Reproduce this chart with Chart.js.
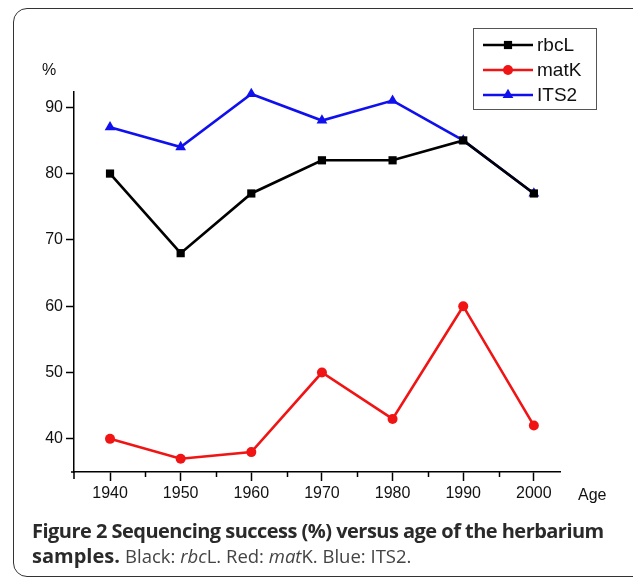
<!DOCTYPE html>
<html>
<head>
<meta charset="utf-8">
<script src="https://cdn.jsdelivr.net/npm/chart.js@4.4.1/dist/chart.umd.min.js"></script>
<style>
  html, body { margin: 0; padding: 0; background: #fff; }
  body { width: 633px; height: 579px; position: relative; overflow: hidden; }
  .frame {
    position: absolute; left: 13px; top: 8px; width: 700px; height: 569px;
    border: 1.5px solid #333; border-radius: 14px; box-sizing: border-box;
  }
  .chartBox { position: absolute; left: 0; top: 0; width: 633px; height: 579px; }
  .caption {
    position: absolute; left: 32px; top: 518px; width: 600px;
    font-family: "Open Sans", sans-serif; font-size: 20px; line-height: 25px;
    color: #444; white-space: nowrap;
  }
  .caption b { font-weight: 700; color: #2a2a2a; }
  .caption span { font-weight: 400; font-size: 18.5px; }
</style>
</head>
<body>
<div class="frame"></div>
<div class="chartBox"><canvas id="chart" width="633" height="579"></canvas></div>
<div class="caption">
  <div id="capLine1"><b>Figure 2 Sequencing success (%) versus age of the herbarium</b></div>
  <div id="capLine2"><b>samples.</b> <span id="capRest">Black: <i>rbc</i>L. Red: <i>mat</i>K. Blue: ITS2.</span></div>
</div>
<script>
// data
const years = [1940, 1950, 1960, 1970, 1980, 1990, 2000];
const rbcL = [80, 68, 77, 82, 82, 85, 77];
const matK = [40, 37, 38, 50, 43, 60, 42];
const its2 = [87, 84, 92, 88, 91, 85, 77];
const yTicks = [40, 50, 60, 70, 80, 90];
const xMinorTicks = [1945, 1955, 1965, 1975, 1985, 1995];

const FONT = "'Liberation Sans', Arial, sans-serif";

// squeeze caption line 1 so it spans the same width as the figure's caption
function fitWidth(el, target) {
  const w = el.getBoundingClientRect().width;
  const ls = (target - w) / el.textContent.length;
  el.style.letterSpacing = ls.toFixed(2) + "px";
}
fitWidth(document.querySelector("#capLine1 b"), 572);

function pts(vals) {
  return years.map((yr, i) => ({ x: yr, y: vals[i] }));
}

/* ---------- axis extras: minor ticks, axis titles ---------- */
const extrasPlugin = {
  id: "extras",
  afterDraw(chart) {
    const ctx = chart.ctx;
    const x = chart.scales.x;
    const bottom = chart.chartArea.bottom;
    const left = chart.chartArea.left;
    ctx.save();
    ctx.strokeStyle = "#000";
    ctx.lineWidth = 1.5;
    // minor ticks on x
    xMinorTicks.forEach(v => {
      const px = Math.round(x.getPixelForValue(v)) + 0.5;
      ctx.beginPath();
      ctx.moveTo(px, bottom);
      ctx.lineTo(px, bottom + 5);
      ctx.stroke();
    });
    // y axis runs a bit below the x axis, x axis a bit left of y axis
    ctx.beginPath();
    ctx.moveTo(left, bottom);
    ctx.lineTo(left, bottom + 7);
    ctx.moveTo(left - 3, bottom);
    ctx.lineTo(left, bottom);
    ctx.stroke();

    ctx.fillStyle = "#111";
    ctx.font = "16px " + FONT;
    ctx.textBaseline = "middle";
    ctx.textAlign = "left";
    ctx.fillText("%", 42, 71);
    ctx.fillText("Age", 578, 496);
    ctx.restore();
  }
};

/* ---------- boxed legend ---------- */
const boxLegendPlugin = {
  id: "boxLegend",
  afterDraw(chart) {
    const ctx = chart.ctx;
    const bx = 473, by = 28, bw = 123, bh = 81;
    ctx.save();
    ctx.fillStyle = "#fff";
    ctx.fillRect(bx, by, bw, bh);
    ctx.strokeStyle = "#555";
    ctx.lineWidth = 1;
    ctx.strokeRect(bx + 0.5, by + 0.5, bw, bh);
    chart.data.datasets.forEach((ds, i) => {
      const cy = by + 17 + i * 25;
      ctx.strokeStyle = ds.borderColor;
      ctx.lineWidth = ds.borderWidth;
      ctx.beginPath();
      ctx.moveTo(483, cy);
      ctx.lineTo(533, cy);
      ctx.stroke();
      ctx.fillStyle = ds.backgroundColor;
      Chart.helpers.drawPoint(ctx, {
        pointStyle: ds.pointStyle, radius: ds.pointRadius, borderWidth: 0, rotation: 0
      }, 508, cy);
      ctx.fillStyle = "#111";
      ctx.font = "19px " + FONT;
      ctx.textBaseline = "middle";
      ctx.textAlign = "left";
      ctx.fillText(ds.label, 537, cy + 1);
    });
    ctx.restore();
  }
};

const ds = (label, vals, color, style, r) => ({
  label: label,
  data: pts(vals),
  borderColor: color,
  backgroundColor: color,
  borderWidth: 2.6,
  pointStyle: style,
  pointRadius: r,
  pointHoverRadius: r,
  pointBorderWidth: 0,
  tension: 0,
  clip: false
});

new Chart(document.getElementById("chart"), {
  type: "line",
  data: {
    datasets: [
      ds("rbcL", rbcL, "#000000", "rect", 5.8),
      ds("matK", matK, "#f01414", "circle", 5),
      ds("ITS2", its2, "#1010ee", "triangle", 6.2)
    ]
  },
  options: {
    responsive: false,
    animation: false,
    layout: { padding: { top: 92, right: 73, bottom: 0, left: 0 } },
    plugins: { legend: { display: false }, tooltip: { enabled: false } },
    scales: {
      x: {
        type: "linear",
        min: 1934.9,
        max: 2003.7,
        afterBuildTicks: (axis) => { axis.ticks = years.map(v => ({ value: v })); },
        afterFit: (axis) => { axis.height = 107; },
        grid: { drawOnChartArea: false, drawTicks: true, tickLength: 9, tickWidth: 1.5, tickColor: "#000" },
        border: { display: true, color: "#000", width: 1.5 },
        ticks: {
          color: "#111", padding: 3, maxRotation: 0,
          font: { family: FONT, size: 16 },
          callback: (v) => String(v)
        }
      },
      y: {
        type: "linear",
        min: 35,
        max: 92.3,
        afterBuildTicks: (axis) => { axis.ticks = yTicks.map(v => ({ value: v })); },
        afterFit: (axis) => { axis.width = 74; },
        grid: { drawOnChartArea: false, drawTicks: true, tickLength: 8, tickWidth: 1.5, tickColor: "#000" },
        border: { display: true, color: "#000", width: 1.5 },
        ticks: {
          color: "#111", padding: 3,
          font: { family: FONT, size: 16 }
        }
      }
    }
  },
  plugins: [extrasPlugin, boxLegendPlugin]
});
</script>
</body>
</html>
